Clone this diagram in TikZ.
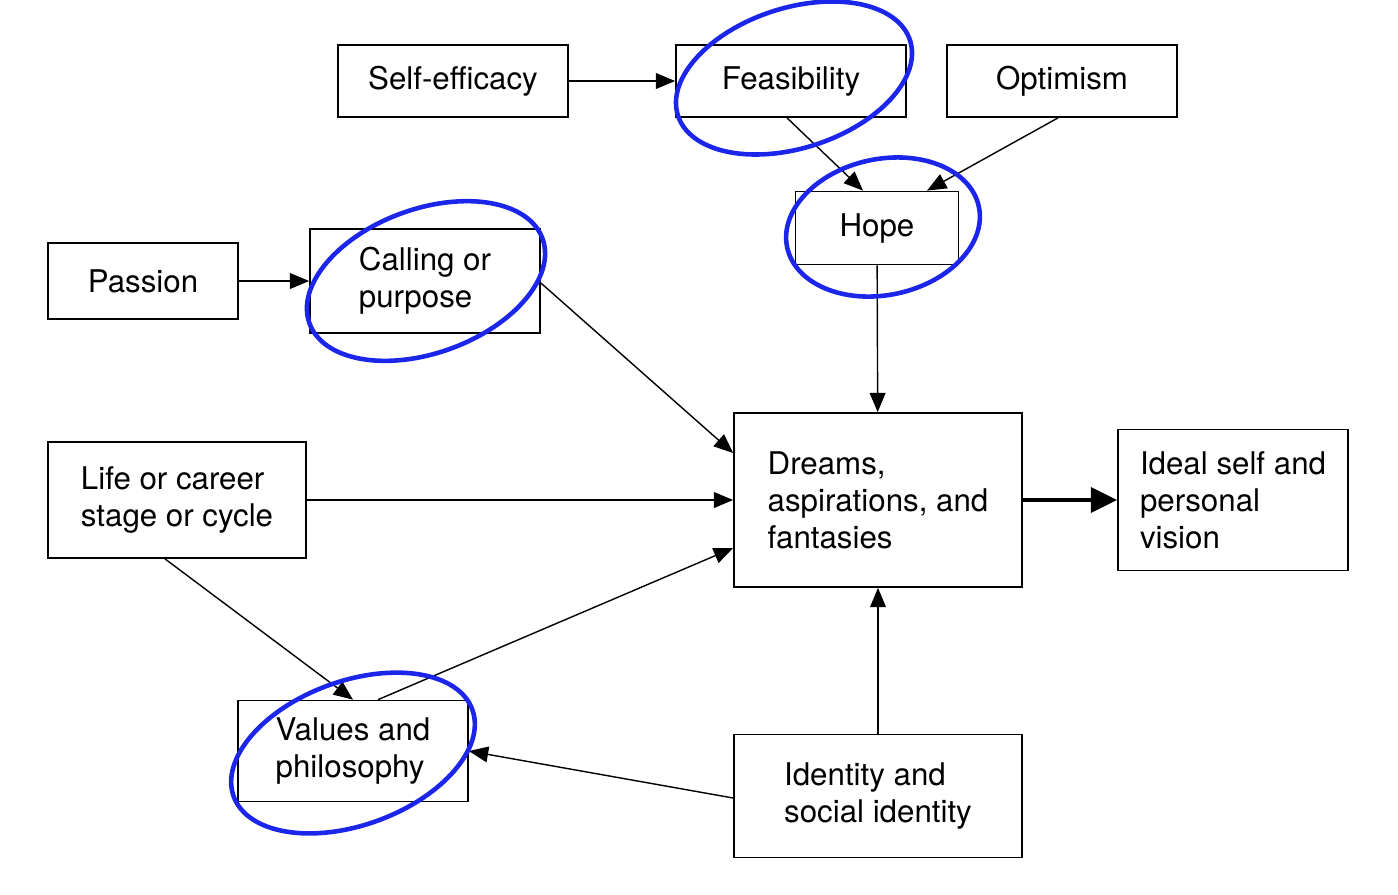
\documentclass[tikz,border=0pt]{standalone}
\usepackage{tikz}
\usepackage{xcolor}
\usepackage{fontspec}
\setmainfont{TeX Gyre Heros}
\usetikzlibrary{arrows.meta}

\begin{document}
\begin{tikzpicture}[x=0.02cm,y=-0.02cm,
  mybox/.style={draw,line width=1pt,align=left,inner sep=0pt,
    font=\fontsize{17.8}{21}\selectfont},
  myarrow/.style={-{Triangle[length=11pt,width=9pt]},line width=0.8pt},
  myring/.style={draw=ringblue,line width=2.6pt}]
\definecolor{ringblue}{RGB}{28,38,235}
\useasboundingbox (0,0) rectangle (1398,894);
% top row
\node [mybox,minimum width=4.6cm,minimum height=1.44cm] (selfeff) at (453,81) {Self-efficacy};
\node [mybox,minimum width=4.6cm,minimum height=1.44cm] (feas) at (791,81) {Feasibility};
\node [mybox,minimum width=4.6cm,minimum height=1.44cm] (optim) at (1062,81) {Optimism};
\node [mybox,minimum width=3.26cm,minimum height=1.46cm] (hope) at (877,228) {Hope};
% left column
\node [mybox,minimum width=3.8cm,minimum height=1.52cm] (passion) at (143,281) {Passion};
\node [mybox,minimum width=4.6cm,minimum height=2.08cm] (calling) at (425,281) {Calling or\\purpose};
\node [mybox,minimum width=5.16cm,minimum height=2.32cm] (life) at (177,500) {Life or career\\stage or cycle};
\node [mybox,minimum width=4.6cm,minimum height=2.02cm] (values) at (353,751) {Values and\\philosophy};
% centre and right
\node [mybox,minimum width=5.76cm,minimum height=3.48cm] (dreams) at (878,500) {Dreams,\\aspirations, and\\fantasies};
\node [mybox,minimum width=4.6cm,minimum height=2.82cm] (ideal) at (1233,500) {Ideal self and\\personal\\vision};
\node [mybox,minimum width=5.76cm,minimum height=2.46cm] (ident) at (878,796) {Identity and\\social identity};
% arrows
\draw [myarrow] (selfeff) -- (feas);
\draw [myarrow] ([xshift=-0.08cm]feas.south) -- ([xshift=-0.28cm]hope.north);
\draw [myarrow] ([xshift=-0.08cm]optim.south) -- ([xshift=1cm]hope.north);
\draw [myarrow] (hope) -- (dreams);
\draw [myarrow] (passion) -- (calling);
\draw [myarrow] ([yshift=-0.04cm]calling.east) -- ([yshift=0.94cm]dreams.west);
\draw [myarrow] (life) -- (dreams);
\draw [myarrow] ([xshift=-0.24cm]life.south) -- (values.north);
\draw [myarrow] ([xshift=0.5cm]values.north) -- ([yshift=-0.96cm]dreams.west);
\draw [myarrow] ([yshift=-0.04cm]ident.west) -- (values.east);
\draw [myarrow] (ident) -- (dreams);
\draw [-{Triangle[length=15pt,width=14pt]},line width=2.8pt] (dreams) -- (ideal);
% blue rings
\draw [myring,rotate around={18:(794,78)}] (794,78) ellipse [x radius=2.44cm,y radius=1.4cm];
\draw [myring,rotate around={12:(883,227)}] (883,227) ellipse [x radius=1.96cm,y radius=1.36cm];
\draw [myring,rotate around={20:(426,281)}] (426,281) ellipse [x radius=2.48cm,y radius=1.44cm];
\draw [myring,rotate around={20:(353,753)}] (353,753) ellipse [x radius=2.54cm,y radius=1.44cm];
\end{tikzpicture}
\end{document}
